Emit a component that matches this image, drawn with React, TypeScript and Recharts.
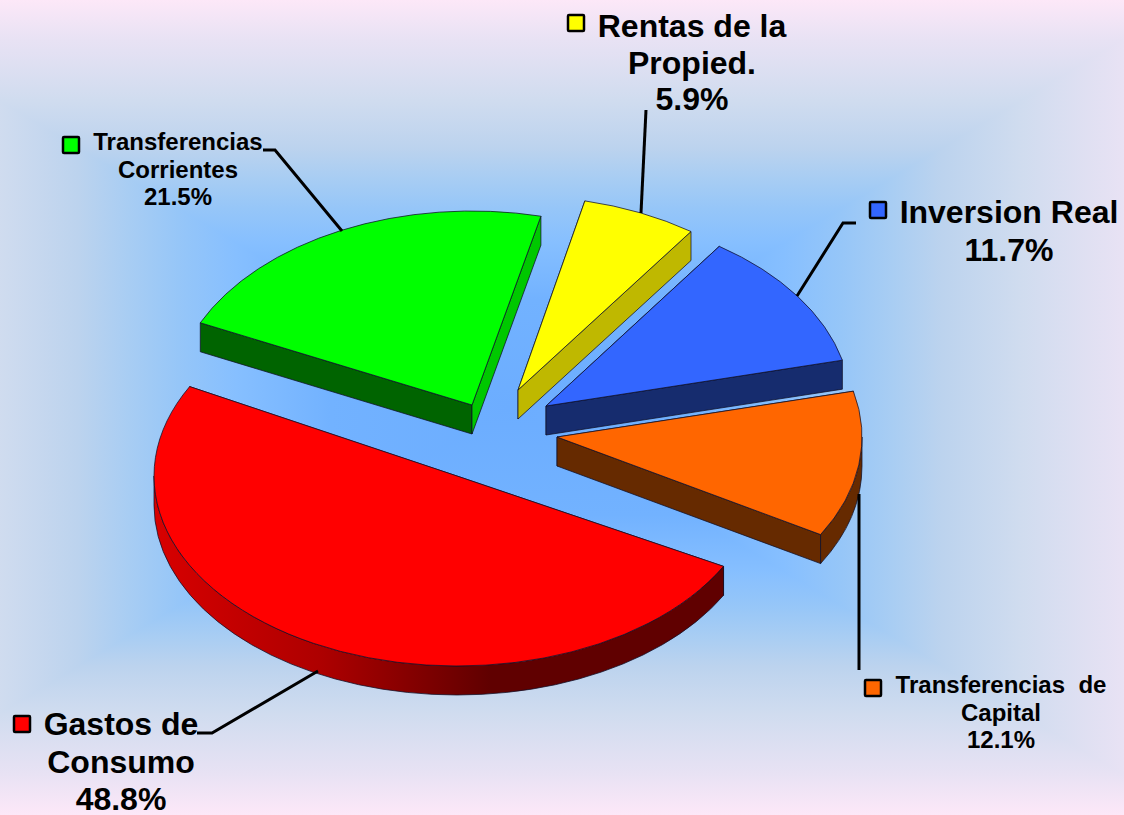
import { PieChart, Pie } from 'recharts';

const sliceNames = ['Gastos de Consumo', 'Transferencias Corrientes', 'Rentas de la Propied.', 'Inversion Real', 'Transferencias de Capital'];
const sliceValues = [48.8, 21.5, 5.9, 11.7, 12.1];
const sliceColors = ['#ff0000', '#00ff00', '#ffff00', '#3366ff', '#ff6600'];

const data = sliceNames.map((name, i) => ({ name, value: sliceValues[i], fill: sliceColors[i] }));

const W = 1124;
const H = 815;
const CX = 500;
const CY = 440;
const DEPTH = 29;

// each slice is pulled out of the pie (ox, oy) and the tilted view
// stretches it a bit, so radii and edge angles differ slightly per slice
const view: Record<string, { ox: number; oy: number; rx: number; ry: number; nudge: [number, number] }> = {
  'Gastos de Consumo': { ox: -43, oy: 36, rx: 303, ry: 190, nudge: [0, 4] },
  'Transferencias Corrientes': { ox: -28, oy: -35, rx: 300, ry: 194, nudge: [1, 1.8] },
  'Rentas de la Propied.': { ox: 18, oy: -50, rx: 300, ry: 194, nudge: [1.4, 2.5] },
  'Inversion Real': { ox: 46, oy: -34, rx: 305, ry: 194, nudge: [1.9, 1.5] },
  'Transferencias de Capital': { ox: 57, oy: -3, rx: 305, ry: 194, nudge: [1.5, 1.8] },
};

// colours of the wall at the start edge, the end edge and the rim
const walls: Record<string, { start: string; end: string; rim: string }> = {
  'Gastos de Consumo': { start: '#600000', end: '#c00000', rim: 'url(#redRim)' },
  'Transferencias Corrientes': { start: '#006400', end: '#00c800', rim: '#006400' },
  'Rentas de la Propied.': { start: '#bfb800', end: '#bfb800', rim: '#bfb800' },
  'Inversion Real': { start: '#162c6e', end: '#162c6e', rim: '#162c6e' },
  'Transferencias de Capital': { start: '#662a00', end: '#662a00', rim: '#662a00' },
};

const labels: Record<string, {
  lines: string[]; x: number; y: number[]; size: number; box: number[]; leader: number[][];
}> = {
  'Gastos de Consumo': {
    lines: ['Gastos de', 'Consumo'], x: 121, y: [735, 773, 810], size: 32,
    box: [14, 716], leader: [[197, 733], [212, 733], [318, 671]],
  },
  'Transferencias Corrientes': {
    lines: ['Transferencias', 'Corrientes'], x: 178, y: [150, 178, 205], size: 24,
    box: [63, 137], leader: [[263, 150], [275, 150], [342, 231]],
  },
  'Rentas de la Propied.': {
    lines: ['Rentas de la', 'Propied.'], x: 692, y: [37, 74, 110], size: 32,
    box: [568, 15], leader: [[646, 110], [641, 213]],
  },
  'Inversion Real': {
    lines: ['Inversion Real'], x: 1009, y: [223, 261], size: 32,
    box: [870, 202], leader: [[856, 223], [843, 223], [797, 296]],
  },
  'Transferencias de Capital': {
    lines: ['Transferencias  de', 'Capital'], x: 1001, y: [693, 721, 748], size: 24,
    box: [865, 680], leader: [[859, 494], [859, 670]],
  },
};

const rad = (d: number) => (d * Math.PI) / 180;

const Slice3D = (props: any) => {
  const { startAngle, endAngle, fill, name, payload } = props;
  const key = name ?? payload?.name;
  const { ox, oy, rx, ry, nudge } = view[key];
  const ax = CX + ox;
  const ay = CY + oy;
  // recharts angles run counter clockwise, t runs clockwise on screen
  const base = ((-startAngle % 360) + 360) % 360;
  const t0 = base + nudge[0];
  const t1 = base + Math.abs(endAngle - startAngle) + nudge[1];
  const pt = (t: number) => [ax + rx * Math.cos(rad(t)), ay + ry * Math.sin(rad(t))];
  const [sx, sy] = pt(t0);
  const [ex, ey] = pt(t1);
  const large = t1 - t0 > 180 ? 1 : 0;
  const c = walls[key];

  const rims: number[][] = [];
  [[0, 180], [360, 540]].forEach(([lo, hi]) => {
    const a = Math.max(t0, lo);
    const b = Math.min(t1, hi);
    if (b > a) rims.push([a, b]);
  });

  const edge = { stroke: '#101028', strokeWidth: 1, strokeOpacity: 0.75, strokeLinejoin: 'round' as const };

  return (
    <g>
      <defs>
        <linearGradient id="redRim" gradientUnits="userSpaceOnUse" x1={154} y1={0} x2={490} y2={0}>
          <stop offset="0" stopColor="#d80000" />
          <stop offset="0.5" stopColor="#ad0000" />
          <stop offset="1" stopColor="#600000" />
        </linearGradient>
      </defs>
      <path d={`M${ax},${ay} L${sx},${sy} L${sx},${sy + DEPTH} L${ax},${ay + DEPTH} Z`} fill={c.start} {...edge} />
      <path d={`M${ax},${ay} L${ex},${ey} L${ex},${ey + DEPTH} L${ax},${ay + DEPTH} Z`} fill={c.end} {...edge} />
      {rims.map(([a, b]) => {
        const [x0, y0] = pt(a);
        const [x1, y1] = pt(b);
        return (
          <path
            key={a}
            d={`M${x0},${y0} A${rx},${ry} 0 0 1 ${x1},${y1} L${x1},${y1 + DEPTH} A${rx},${ry} 0 0 0 ${x0},${y0 + DEPTH} Z`}
            fill={c.rim}
            {...edge}
          />
        );
      })}
      <path d={`M${ax},${ay} L${sx},${sy} A${rx},${ry} 0 ${large} 1 ${ex},${ey} Z`} fill={fill} {...edge} />
    </g>
  );
};

const SliceLabel = (props: any) => {
  const key = props.name ?? props.payload?.name;
  const l = labels[key];
  const rows = [...l.lines, `${props.value.toFixed(1)}%`];
  return (
    <g>
      <polyline points={l.leader.map((p) => p.join(',')).join(' ')} fill="none" stroke="#000" strokeWidth={3} />
      <rect x={l.box[0]} y={l.box[1]} width={16} height={16} rx={1} fill={props.fill} stroke="#000" strokeWidth={2.5} />
      {rows.map((row, i) => (
        <text
          key={i}
          x={l.x}
          y={l.y[i]}
          textAnchor="middle"
          fontFamily="'Liberation Sans', Arial, sans-serif"
          fontWeight="bold"
          fontSize={l.size}
          fill="#000"
          style={{ whiteSpace: 'pre' }}
        >
          {row}
        </text>
      ))}
    </g>
  );
};

// rectangular gradient of the slide background
const BG_X = 510;
const BG_Y = 407;
const BG_W = 720;
const BG_H = 432;
const bgStops: [number, string][] = [
  [0, '#6cadff'],
  [0.25, '#72b2ff'],
  [0.38, '#86bfff'],
  [0.46, '#96c6f8'],
  [0.53, '#a8cdf3'],
  [0.6, '#bcd3ee'],
  [0.71, '#d0dcef'],
  [0.85, '#e8e2f4'],
  [0.945, '#fde8f8'],
  [1, '#fde8f8'],
];

const Background = () => {
  const corners = [[BG_X - BG_W, BG_Y - BG_H], [BG_X + BG_W, BG_Y - BG_H], [BG_X + BG_W, BG_Y + BG_H], [BG_X - BG_W, BG_Y + BG_H]];
  const ends = [[BG_X, BG_Y - BG_H], [BG_X + BG_W, BG_Y], [BG_X, BG_Y + BG_H], [BG_X - BG_W, BG_Y]];
  return (
    <svg width={W} height={H} style={{ position: 'absolute', left: 0, top: 0 }}>
      <defs>
        {ends.map(([x, y], i) => (
          <linearGradient key={i} id={`bg${i}`} gradientUnits="userSpaceOnUse" x1={BG_X} y1={BG_Y} x2={x} y2={y}>
            {bgStops.map(([o, col]) => <stop key={o} offset={o} stopColor={col} />)}
          </linearGradient>
        ))}
      </defs>
      <rect width={W} height={H} fill="#cfdbec" />
      {ends.map((_, i) => {
        const a = corners[i];
        const b = corners[(i + 1) % 4];
        return <polygon key={i} points={`${BG_X},${BG_Y} ${a[0]},${a[1]} ${b[0]},${b[1]}`} fill={`url(#bg${i})`} shapeRendering="crispEdges" />;
      })}
    </svg>
  );
};

export default function App() {
  return (
    <div style={{ position: 'absolute', left: 0, top: 0, width: W, height: H, overflow: 'hidden' }}>
      <Background />
      <div style={{ position: 'absolute', left: 0, top: 0 }}>
        <PieChart width={W} height={H} margin={{ top: 0, right: 0, bottom: 0, left: 0 }}>
          <Pie
            data={data}
            dataKey="value"
            nameKey="name"
            cx={CX}
            cy={CY}
            outerRadius={300}
            startAngle={-28.4}
            endAngle={-388.4}
            stroke="none"
            shape={Slice3D}
            label={SliceLabel}
            labelLine={false}
            isAnimationActive={false}
          />
        </PieChart>
      </div>
    </div>
  );
}
